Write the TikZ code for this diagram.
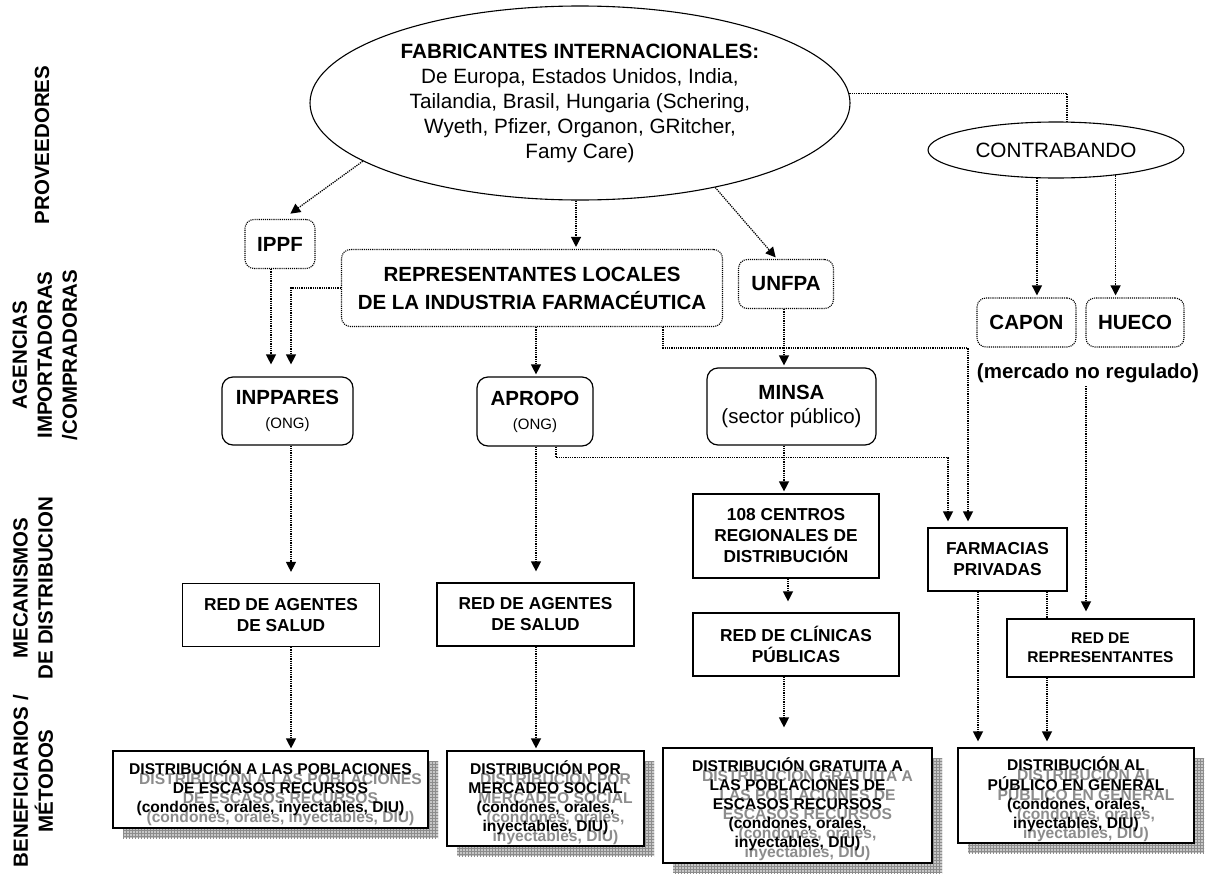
\documentclass[tikz,border=0pt]{standalone}
\usepackage{fontspec}
\setmainfont{Liberation Sans}
\usetikzlibrary{arrows.meta}
\usetikzlibrary{shapes.geometric, patterns}

\newcommand\ghosted[1]{\leavevmode\rlap{\kern10pt\smash{\raisebox{-10pt}{\color{black!45}\begin{tabular}{@{}c@{}}#1\end{tabular}}}}\begin{tabular}{@{}c@{}}#1\end{tabular}}

\begin{document}
\begin{tikzpicture}[x=1pt,y=-1pt,->,>={Triangle[width=10pt,length=10pt]},shorten >=2pt,
                conn/.style={densely dotted,line width=1.25pt},
                lane/.style={rotate=90,align=center,font=\bfseries\fontsize{20.5}{25}\selectfont},
                supplier/.style={ellipse,draw,line width=1.1pt,align=center,inner sep=0pt,font=\fontsize{20.7}{25}\selectfont},
                agency/.style={draw,densely dotted,line width=1.1pt,rounded corners=9pt,align=center,font=\bfseries\fontsize{20.5}{28}\selectfont},
                ngo/.style={draw,line width=1.2pt,rounded corners=11pt,align=center,font=\bfseries\fontsize{20.5}{24}\selectfont},
                mech/.style={draw,line width=1.2pt,align=center,font=\bfseries\fontsize{17.3}{21}\selectfont},
                method/.style={draw,line width=1.2pt,fill=white,inner sep=0pt,font=\bfseries\fontsize{15.6}{19}\selectfont,
                  preaction={fill=black!22,transform canvas={shift={(10pt,-10pt)}}},
                  preaction={pattern=grid,pattern color=black!45,transform canvas={shift={(10pt,-10pt)}}}}]

  \useasboundingbox (0,0) rectangle (1209,878);

  \node[lane] (prov) at (42,145) {PROVEEDORES};
  \node[lane] (agen) at (45,355) {AGENCIAS\\IMPORTADORAS\\/COMPRADORAS};
  \node[lane] (mecan) at (33,588) {MECANISMOS\\DE DISTRIBUCION};
  \node[lane] (benef) at (33,781) {BENEFICIARIOS /\\MÉTODOS};

  \node[supplier,minimum width=540,minimum height=194] (fab) at (580,103)
    {\textbf{FABRICANTES INTERNACIONALES:}\\De Europa, Estados Unidos, India,\\Tailandia, Brasil, Hungaria (Schering,\\Wyeth, Pfizer, Organon, GRitcher,\\Famy Care)};
  \node[supplier,minimum width=256,minimum height=56] (contra) at (1056,150) {CONTRABANDO};

  \node[agency,minimum width=70,minimum height=49] (ippf) at (280,244) {IPPF};
  \node[agency,minimum width=381,minimum height=77] (rep) at (532,288) {REPRESENTANTES LOCALES\\DE LA INDUSTRIA FARMACÉUTICA};
  \node[agency,minimum width=95,minimum height=49] (unfpa) at (786,284) {UNFPA};
  \node[agency,minimum width=99,minimum height=49] (capon) at (1026.5,322.5) {CAPON};
  \node[agency,minimum width=98,minimum height=49] (hueco) at (1135,322.5) {HUECO};
  \node[font=\bfseries\fontsize{20.5}{25}\selectfont] (mercado) at (1088,373) {(mercado no regulado)};

  \node[ngo,minimum width=131,minimum height=68] (inppares) at (287.5,411) {INPPARES\\{\mdseries\fontsize{15}{18}\selectfont (ONG)}};
  \node[ngo,minimum width=116,minimum height=69] (apropo) at (535,411.5) {APROPO\\{\mdseries\fontsize{15}{18}\selectfont (ONG)}};
  \node[ngo,minimum width=169,minimum height=77] (minsa) at (791.5,406.5) {MINSA\\{\mdseries (sector público)}};

  \node[mech,minimum width=197,minimum height=63] (red1) at (281,615) {RED DE AGENTES\\DE SALUD};
  \node[mech,minimum width=197,minimum height=63] (red2) at (535.5,614.5) {RED DE AGENTES\\DE SALUD};
  \node[mech,minimum width=186,minimum height=84] (centros) at (786,536) {108 CENTROS\\REGIONALES DE\\DISTRIBUCIÓN};
  \node[mech,minimum width=206,minimum height=63] (clinicas) at (796,644.5) {RED DE CLÍNICAS\\PÚBLICAS};
  \node[mech,minimum width=139,minimum height=63] (farm) at (997.5,559.5) {FARMACIAS\\PRIVADAS};
  \node[mech,minimum width=187,minimum height=58,font=\bfseries\fontsize{15.5}{19}\selectfont] (redrep) at (1100.5,648) {RED DE\\REPRESENTANTES};

  \node[method,minimum width=315,minimum height=77] (dist1) at (270.5,789.5)
    {\ghosted{DISTRIBUCIÓN A LAS POBLACIONES\\DE ESCASOS RECURSOS\\(condones, orales, inyectables, DIU)}};
  \node[method,minimum width=197,minimum height=95] (dist2) at (545.5,798.5)
    {\ghosted{DISTRIBUCIÓN POR\\MERCADEO SOCIAL\\(condones, orales,\\inyectables, DIU)}};
  \node[method,minimum width=269,minimum height=115] (dist3) at (797.5,805.5)
    {\ghosted{DISTRIBUCIÓN GRATUITA A\\LAS POBLACIONES DE\\ESCASOS RECURSOS\\(condones, orales,\\inyectables, DIU)}};
  \node[method,minimum width=236,minimum height=95] (dist4) at (1076,795.5)
    {\ghosted{DISTRIBUCIÓN AL\\PÚBLICO EN GENERAL\\(condones, orales,\\inyectables, DIU)}};

  \path[conn]
    (fab.195) edge[shorten >=9pt] (ippf.north -| 283,0)
    (fab.south -| 576,0) edge (rep.north -| 576,0)
    (fab.-32) edge (unfpa.north -| 777,0)
    (fab.2) edge[-,shorten >=0pt,to path={-| (\tikztotarget)}] (contra.north -| 1067,0)
    (contra.236) edge (contra.236 |- capon.north)
    (contra.-23) edge (contra.-23 |- hueco.north)
    (ippf.south -| 271,0) edge[shorten >=12pt] (inppares.north -| 271,0)
    (rep.west) edge[shorten >=12pt,to path={-| (\tikztotarget)}] (inppares.north -| 291,0)
    (rep.south -| 536,0) edge (apropo.north -| 536,0)
    (rep.south -| 663,0) edge[shorten >=6pt,to path={-- ++(0,21) -| (\tikztotarget)}] (farm.north -| 968,0)
    (apropo.south -| 556,0) edge[shorten >=6pt,to path={-- ++(0,11) -| (\tikztotarget)}] (farm.north -| 948,0)
    (unfpa.south -| 784,0) edge (minsa.north -| 784,0)
    (inppares.south -| 291,0) edge[shorten >=11pt] (red1.north -| 291,0)
    (apropo.south -| 536,0) edge[shorten >=11pt] (red2.north -| 536,0)
    (minsa.south -| 784,0) edge (centros.north -| 784,0)
    (centros.south -| 788,0) edge[shorten >=11pt] (clinicas.north -| 788,0)
    (red1.south -| 291,0) edge (dist1.north -| 291,0)
    (red2.south -| 536,0) edge (dist2.north -| 536,0)
    (clinicas.south -| 784,0) edge[shorten >=20pt] (dist3.north -| 784,0)
    (mercado.south -| 1086,0) edge[shorten >=7pt] (redrep.north -| 1086,0)
    (farm.south -| 978,0) edge[shorten >=6pt] (dist4.north -| 978,0)
    (farm.south -| 1047,0) edge[-,shorten >=0pt] (redrep.north -| 1047,0)
    (redrep.south -| 1047,0) edge[shorten >=6pt] (dist4.north -| 1047,0);
\end{tikzpicture}
\end{document}
